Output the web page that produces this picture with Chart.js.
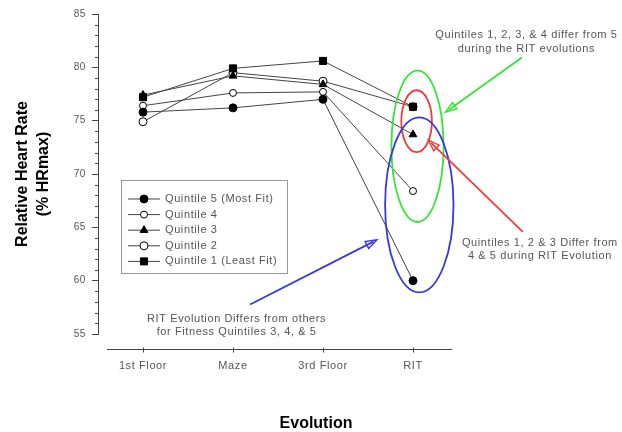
<!DOCTYPE html>
<html>
<head>
<meta charset="utf-8">
<script src="https://cdn.jsdelivr.net/npm/chart.js@4/dist/chart.umd.min.js"></script>
<style>
  html, body { margin: 0; padding: 0; background: #fff; }
  #wrap { width: 622px; height: 432px; }
</style>
</head>
<body>
<div id="wrap"><canvas id="c" width="622" height="432"></canvas></div>
<script>
// Relative heart rate (% HRmax) per fitness quintile across the four evolutions
const stages = ['1st Floor', 'Maze', '3rd Floor', 'RIT'];
const quintile5 = [75.8, 76.2, 77.0, 60.0];
const quintile4 = [76.4, 77.6, 77.7, 68.4];
const quintile3 = [77.4, 79.2, 78.4, 73.7];
const quintile2 = [74.9, 79.5, 78.7, 76.3];
const quintile1 = [77.2, 79.9, 80.6, 76.3];
const seriesNames = ['Quintile 5 (Most Fit)', 'Quintile 4', 'Quintile 3', 'Quintile 2', 'Quintile 1 (Least Fit)'];
const yRange = [55, 85];
const yMajorStep = 5;

const FONT = 'Liberation Sans, Arial, Helvetica, sans-serif';
const LINE = '#444';
const TEXT = '#555';
const SPACING = '0.6px';   // light tracking for the small annotation type

// Call-out shapes placed in scale units (x = category index, y = % HRmax)
const ellipses = [
  { color: '#33e633', cx: 3.05, cy: 72.6, rx: 0.29, ry: 7.1 },
  { color: '#f03a3a', cx: 3.04, cy: 74.95, rx: 0.17, ry: 2.9 },
  { color: '#3838e0', cx: 3.07, cy: 67.1, rx: 0.38, ry: 8.2 }
];
const arrows = [
  { color: '#33e633', from: [4.21, 80.93], to: [3.36, 75.79] },
  { color: '#f03a3a', from: [4.22, 64.58], to: [3.17, 73.18] },
  { color: '#3838e0', from: [1.19, 57.76], to: [2.60, 63.83] }
];
const notes = [
  { at: [4.26, 82.99], lines: ['Quintiles 1, 2, 3, & 4 differ from 5', 'during the RIT evolutions'] },
  { at: [4.41, 63.55], lines: ['Quintiles 1, 2 & 3 Differ from', '4 & 5 during RIT Evolution'] },
  { at: [1.04, 56.45], lines: ['RIT Evolution Differs from others', 'for Fitness Quintiles 3, 4, & 5'] }
];

const series = [
  { data: quintile5, pointStyle: 'circle', radius: 4, fill: '#000', order: 0 },
  { data: quintile4, pointStyle: 'circle', radius: 3.5, fill: '#fff', order: 1 },
  { data: quintile3, pointStyle: 'triangle', radius: 4.5, fill: '#000', order: 2 },
  { data: quintile2, pointStyle: 'circle', radius: 4, fill: '#fff', order: 3 },
  { data: quintile1, pointStyle: 'rect', radius: 5, fill: '#000', order: -1 }
];

const datasets = series.map((s, i) => ({
  label: seriesNames[i],
  data: s.data,
  order: s.order,
  borderColor: LINE,
  borderWidth: 1,
  pointStyle: s.pointStyle,
  pointRadius: s.radius,
  pointBackgroundColor: s.fill,
  pointBorderColor: '#000',
  pointBorderWidth: 1,
  tension: 0,
  fill: false
}));

const extras = {
  id: 'extras',
  beforeDraw(chart) {
    // bold axis titles are drawn untracked
    chart.ctx.letterSpacing = '0px';
  },
  afterDatasetsDraw(chart) {
    // tick labels (z = 1) are drawn after this point
    chart.ctx.letterSpacing = SPACING;
  },
  afterDraw(chart) {
    const ctx = chart.ctx;
    const xs = chart.scales.x, ys = chart.scales.y;
    const area = chart.chartArea;
    const px = v => xs.getPixelForValue(v);
    const py = v => ys.getPixelForValue(v);
    const step = px(1) - px(0);
    ctx.save();
    ctx.letterSpacing = SPACING;

    // minor ticks on the value axis
    ctx.strokeStyle = '#444';
    ctx.lineWidth = 1;
    for (let v = yRange[0]; v <= yRange[1]; v++) {
      if (v % yMajorStep === 0) continue;
      const y = Math.round(py(v)) + 0.5;
      ctx.beginPath();
      ctx.moveTo(area.left - 3, y);
      ctx.lineTo(area.left, y);
      ctx.stroke();
    }

    // detached category axis line with tick marks
    const axisY = Math.round(area.bottom + 15) + 0.5;
    ctx.beginPath();
    ctx.moveTo(area.left + 9, axisY);
    ctx.lineTo(px(stages.length - 1) + 39, axisY);
    ctx.stroke();
    stages.forEach((_, i) => {
      const x = Math.round(px(i)) + 0.5;
      ctx.beginPath();
      ctx.moveTo(x, axisY - 2);
      ctx.lineTo(x, axisY + 3);
      ctx.stroke();
    });

    // legend box
    const lx = area.left + 23, ly = 180, lw = 166, lh = 93;
    ctx.strokeStyle = '#999';
    ctx.strokeRect(lx + 0.5, ly + 0.5, lw, lh);
    ctx.font = '11px ' + FONT;
    ctx.textBaseline = 'middle';
    ctx.textAlign = 'left';
    datasets.forEach((ds, i) => {
      const y = ly + 19 + i * 15.6;
      ctx.strokeStyle = LINE;
      ctx.lineWidth = 1;
      ctx.beginPath();
      ctx.moveTo(lx + 7, y);
      ctx.lineTo(lx + 39, y);
      ctx.stroke();
      ctx.fillStyle = ds.pointBackgroundColor;
      ctx.strokeStyle = '#000';
      Chart.helpers.drawPoint(ctx, { pointStyle: ds.pointStyle, radius: ds.pointRadius, borderWidth: 1, rotation: 0 }, lx + 23, y);
      ctx.fillStyle = TEXT;
      ctx.fillText(ds.label, lx + 44, y);
    });

    // call-out ellipses
    ctx.lineWidth = 1.8;
    ellipses.forEach(e => {
      ctx.strokeStyle = e.color;
      ctx.beginPath();
      ctx.ellipse(px(e.cx), py(e.cy), e.rx * step, Math.abs(py(e.cy + e.ry) - py(e.cy)), 0, 0, Math.PI * 2);
      ctx.stroke();
    });

    // call-out arrows
    arrows.forEach(a => {
      const x1 = px(a.from[0]), y1 = py(a.from[1]);
      const x2 = px(a.to[0]), y2 = py(a.to[1]);
      const ang = Math.atan2(y2 - y1, x2 - x1);
      const L = 12, w = 0.33;
      ctx.strokeStyle = a.color;
      ctx.lineWidth = 1.8;
      ctx.beginPath();
      ctx.moveTo(x1, y1);
      ctx.lineTo(x2 - 4 * Math.cos(ang), y2 - 4 * Math.sin(ang));
      ctx.stroke();
      ctx.lineWidth = 1.4;
      ctx.beginPath();
      ctx.moveTo(x2, y2);
      ctx.lineTo(x2 - L * Math.cos(ang - w), y2 - L * Math.sin(ang - w));
      ctx.lineTo(x2 - L * Math.cos(ang + w), y2 - L * Math.sin(ang + w));
      ctx.closePath();
      ctx.stroke();
    });

    // call-out texts
    ctx.fillStyle = TEXT;
    ctx.font = '11px ' + FONT;
    ctx.textAlign = 'center';
    ctx.textBaseline = 'middle';
    notes.forEach(n => {
      const x = px(n.at[0]), y = py(n.at[1]);
      n.lines.forEach((t, i) => ctx.fillText(t, x, y + i * 13.5));
    });

    ctx.restore();
  }
};

new Chart(document.getElementById('c'), {
  type: 'line',
  data: { labels: stages, datasets },
  options: {
    responsive: false,
    animation: false,
    devicePixelRatio: 1,
    layout: { padding: { top: 14, left: 10, right: 0, bottom: 0 } },
    plugins: {
      legend: { display: false },
      tooltip: { enabled: false },
      title: {
        display: true,
        position: 'bottom',
        text: 'Evolution',
        color: '#000',
        font: { family: FONT, size: 16, weight: 'bold', lineHeight: 1.0 },
        padding: { top: 0, bottom: 0 }
      }
    },
    scales: {
      x: {
        offset: true,
        grid: { display: false, drawTicks: false },
        border: { display: false },
        ticks: { z: 1, color: TEXT, font: { family: FONT, size: 11 }, padding: 25 },
        afterFit(s) { s.height = 82; }
      },
      y: {
        min: yRange[0],
        max: yRange[1],
        ticks: { z: 1, stepSize: yMajorStep, color: TEXT, font: { family: FONT, size: 10 }, padding: 6 },
        grid: { drawOnChartArea: false, tickLength: 6, color: '#444', tickColor: '#444' },
        border: { display: true, color: '#444', width: 1 },
        title: {
          display: true,
          text: ['Relative Heart Rate', '(% HRmax)'],
          color: '#000',
          font: { family: FONT, size: 16, weight: 'bold', lineHeight: 1.32 },
          padding: { top: 2, bottom: 0 }
        },
        afterFit(s) { s.width = 88; }
      },
      spacer: {
        position: 'right',
        display: true,
        grid: { display: false, drawTicks: false },
        border: { display: false },
        ticks: { display: false },
        afterFit(s) { s.width = 164; }
      }
    }
  },
  plugins: [extras]
});
</script>
</body>
</html>
